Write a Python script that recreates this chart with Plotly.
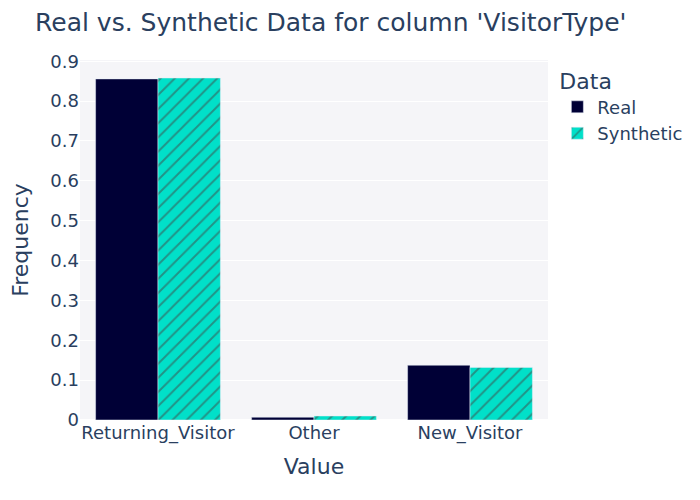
import plotly.graph_objects as go

categories = ["Returning_Visitor", "Other", "New_Visitor"]
real_values = [0.8557, 0.0069, 0.1374]
synthetic_values = [0.8580, 0.0100, 0.1320]

fig = go.Figure()
fig.add_trace(go.Bar(
    x=categories, y=real_values, name="Real",
    marker=dict(color="#000036"),
))
fig.add_trace(go.Bar(
    x=categories, y=synthetic_values, name="Synthetic",
    marker=dict(color="#01E0C9", pattern=dict(shape="/")),
))
fig.update_layout(
    template="plotly",
    width=700, height=500,
    font=dict(family="DejaVu Sans", size=18, color="#2a3f5f"),
    title=dict(text="Real vs. Synthetic Data for column 'VisitorType'", font=dict(size=25),
               x=0.0386, xanchor="left", y=0.972, yanchor="middle"),
    plot_bgcolor="#F5F5F8",
    barmode="group",
    legend=dict(title=dict(text="Data", font=dict(size=22))),
    margin=dict(t=52, b=88, l=72, r=160),
    xaxis=dict(title=dict(text="Value", font=dict(size=22)), automargin=False),
    yaxis=dict(title=dict(text="Frequency", font=dict(size=22)), gridcolor="white", automargin=False),
)
fig.write_html("out.html")
